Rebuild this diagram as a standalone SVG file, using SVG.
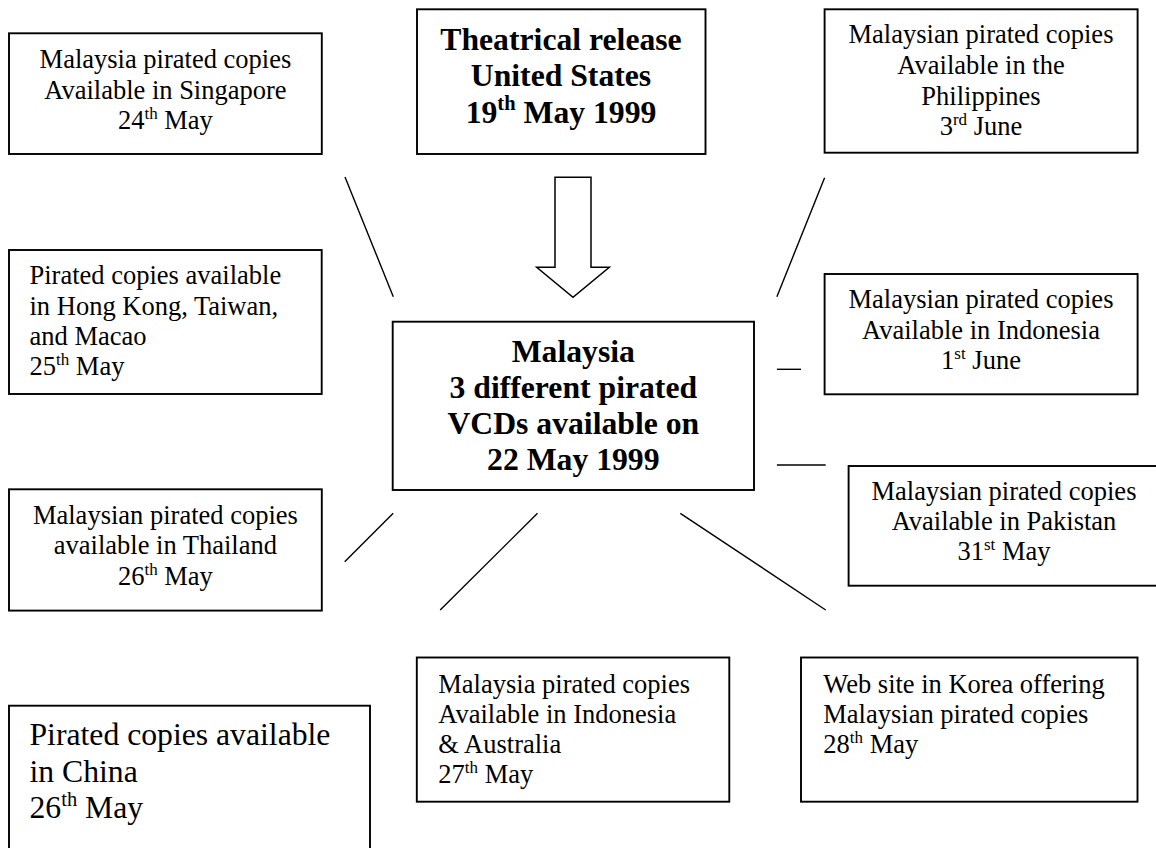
<svg xmlns="http://www.w3.org/2000/svg" width="1156" height="848" viewBox="0 0 1156 848">
<style>
.box{fill:#fff;stroke:#000;stroke-width:1.9}
.arr{fill:#fff;stroke:#000;stroke-width:1.5}
.t{font-family:"Liberation Serif","Times New Roman",serif;font-size:26.5px;fill:#000}
.c{text-anchor:middle}
.b{font-weight:bold;font-size:31.7px}
.big{font-size:31.7px}
.sup{font-size:17px}
.bsup{font-size:20.5px}
.ln{stroke:#000;stroke-width:1.4;fill:none}
</style>
<rect width="1156" height="848" fill="#fff"/>
<g id="connectors">
<line class="ln" x1="345" y1="177" x2="393.3" y2="296.7"/>
<line class="ln" x1="824.6" y1="177.7" x2="776.9" y2="296.7"/>
<line class="ln" x1="776.9" y1="369.3" x2="801" y2="369.3"/>
<line class="ln" x1="776.9" y1="465" x2="825.7" y2="465"/>
<line class="ln" x1="393.2" y1="513.3" x2="344.7" y2="561.7"/>
<line class="ln" x1="537.5" y1="513.3" x2="440.2" y2="610"/>
<line class="ln" x1="680.3" y1="513.3" x2="825.7" y2="610"/>
<polygon id="arrow" class="arr" points="555,177.3 591,177.3 591,267.3 609.3,267.3 573,297.3 536.7,267.3 555,267.3"/>
</g>
<g id="theatrical">
<rect class="box" x="417" y="9.3" width="288.5" height="144.7"/>
<text class="t b c" x="561" y="50">Theatrical release</text>
<text class="t b c" x="561" y="86">United States</text>
<text class="t b c" x="561" y="123.3">19<tspan class="bsup" dy="-13">th</tspan><tspan dy="13"> May 1999</tspan></text>
</g>
<g id="singapore">
<rect class="box" x="9" y="33.3" width="312.8" height="120.7"/>
<text class="t c" x="165.4" y="68.3">Malaysia pirated copies</text>
<text class="t c" x="165.4" y="99">Available in Singapore</text>
<text class="t c" x="165.4" y="129.3">24<tspan class="sup" dy="-10">th</tspan><tspan dy="10"> May</tspan></text>
</g>
<g id="hongkong">
<rect class="box" x="9" y="250" width="312.7" height="144"/>
<text class="t" x="29.5" y="284.3">Pirated copies available</text>
<text class="t" x="29.5" y="314.8">in Hong Kong, Taiwan,</text>
<text class="t" x="29.5" y="345">and Macao</text>
<text class="t" x="29.5" y="375.3">25<tspan class="sup" dy="-10">th</tspan><tspan dy="10"> May</tspan></text>
</g>
<g id="thailand">
<rect class="box" x="9" y="489.3" width="312.8" height="121.3"/>
<text class="t c" x="165.4" y="523.5">Malaysian pirated copies</text>
<text class="t c" x="165.4" y="554">available in Thailand</text>
<text class="t c" x="165.4" y="584.5">26<tspan class="sup" dy="-10">th</tspan><tspan dy="10"> May</tspan></text>
</g>
<g id="china">
<rect class="box" x="9" y="705.7" width="361" height="170"/>
<text class="t big" x="29.5" y="745">Pirated copies available</text>
<text class="t big" x="29.5" y="781.7">in China</text>
<text class="t big" x="29.5" y="818.3">26<tspan font-size="20.5px" dy="-12">th</tspan><tspan dy="12"> May</tspan></text>
</g>
<g id="central">
<rect class="box" x="392.7" y="321.7" width="361.3" height="168.3"/>
<text class="t b c" x="573.3" y="361.7">Malaysia</text>
<text class="t b c" x="573.3" y="397.7">3 different pirated</text>
<text class="t b c" x="573.3" y="434">VCDs available on</text>
<text class="t b c" x="573.3" y="470">22 May 1999</text>
</g>
<g id="philippines">
<rect class="box" x="824.6" y="9.3" width="313" height="143.4"/>
<text class="t c" x="981" y="43.3">Malaysian pirated copies</text>
<text class="t c" x="981" y="74">Available in the</text>
<text class="t c" x="981" y="104.5">Philippines</text>
<text class="t c" x="981" y="135">3<tspan class="sup" dy="-10">rd</tspan><tspan dy="10"> June</tspan></text>
</g>
<g id="indonesia">
<rect class="box" x="824.6" y="274" width="313" height="120.3"/>
<text class="t c" x="981" y="308">Malaysian pirated copies</text>
<text class="t c" x="981" y="338.5">Available in Indonesia</text>
<text class="t c" x="981" y="369">1<tspan class="sup" dy="-10">st</tspan><tspan dy="10"> June</tspan></text>
</g>
<g id="pakistan">
<rect class="box" x="848.6" y="466" width="311" height="119.7"/>
<text class="t c" x="1004" y="500">Malaysian pirated copies</text>
<text class="t c" x="1004" y="530">Available in Pakistan</text>
<text class="t c" x="1004" y="560">31<tspan class="sup" dy="-10">st</tspan><tspan dy="10"> May</tspan></text>
</g>
<g id="australia">
<rect class="box" x="416.8" y="657.5" width="312.5" height="144.2"/>
<text class="t" x="438.3" y="693.3">Malaysia pirated copies</text>
<text class="t" x="438.3" y="723.3">Available in Indonesia</text>
<text class="t" x="438.3" y="752.8">&amp; Australia</text>
<text class="t" x="438.3" y="782.7">27<tspan class="sup" dy="-10">th</tspan><tspan dy="10"> May</tspan></text>
</g>
<g id="korea">
<rect class="box" x="801" y="657.5" width="336.5" height="144.2"/>
<text class="t" x="823.3" y="693.3">Web site in Korea offering</text>
<text class="t" x="823.3" y="723.3">Malaysian pirated copies</text>
<text class="t" x="823.3" y="752.8">28<tspan class="sup" dy="-10">th</tspan><tspan dy="10"> May</tspan></text>
</g>
</svg>
